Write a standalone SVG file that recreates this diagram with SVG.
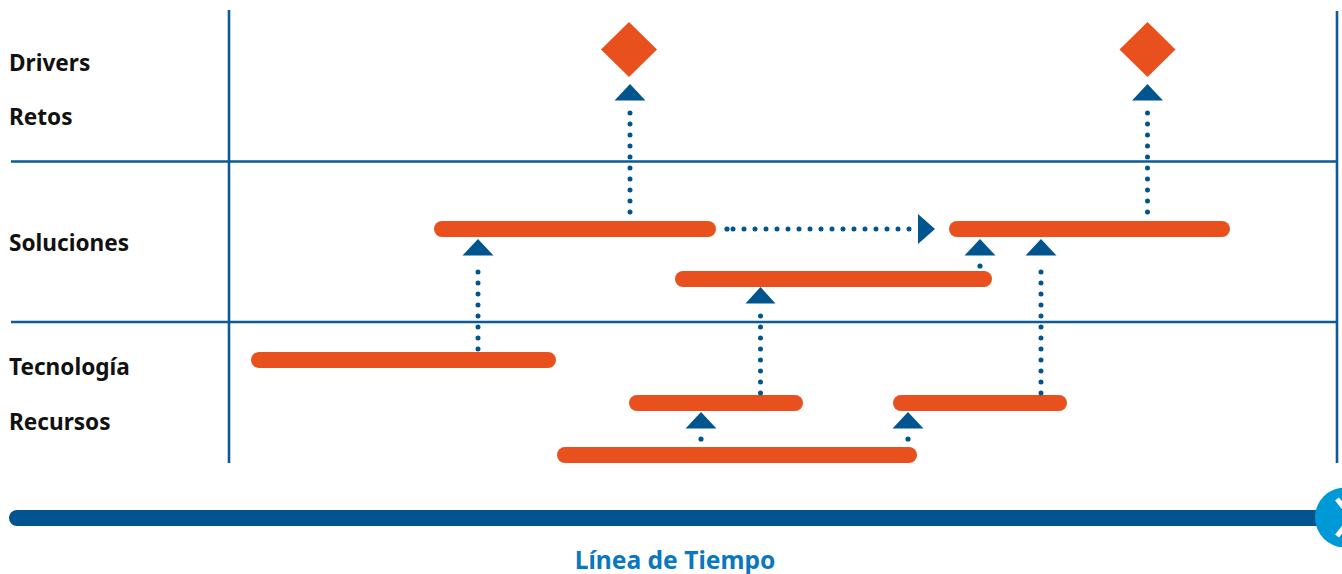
<svg xmlns="http://www.w3.org/2000/svg" width="1342" height="574" viewBox="0 0 1342 574">
<style>
.lbl{font-family:"Noto Sans","Liberation Sans",sans-serif;font-weight:bold;font-size:22.6px;fill:#111}
.title{font-family:"Noto Sans","Liberation Sans",sans-serif;font-weight:bold;font-size:24.6px;fill:#0a78be}
.grid{stroke:#0d5a94;stroke-width:2.6;fill:none}
.bar{stroke:#e8501e;stroke-width:16;stroke-linecap:round;fill:none}
.dots{stroke:#00558f;stroke-width:5;stroke-linecap:round;stroke-dasharray:0 11;fill:none}
.tri{fill:#00558f}
.dia{fill:#e8501e}
</style>
<rect width="1342" height="574" fill="#ffffff"/>
<g id="grid">
<line class="grid" x1="229" y1="10" x2="229" y2="463"/>
<line class="grid" x1="1337" y1="11" x2="1337" y2="463"/>
<line class="grid" x1="11" y1="161.5" x2="1337" y2="161.5"/>
<line class="grid" x1="11" y1="322" x2="1337" y2="322"/>
</g>
<g id="labels">
<text class="lbl" x="9" y="71">Drivers</text>
<text class="lbl" x="9" y="125">Retos</text>
<text class="lbl" x="9" y="251">Soluciones</text>
<text class="lbl" x="9" y="375">Tecnología</text>
<text class="lbl" x="9" y="430">Recursos</text>
</g>
<g id="drivers">
<polygon id="driver1" class="dia" points="629,22 657,49.5 629,77 601,49.5"/>
<polygon id="driver2" class="dia" points="1147.5,22 1175.5,49.5 1147.5,77 1119.5,49.5"/>
</g>
<g id="bars">
<line id="sol1" class="bar" x1="442" y1="229" x2="708" y2="229"/>
<line id="sol2" class="bar" x1="957" y1="229" x2="1222" y2="229"/>
<line id="sol3" class="bar" x1="683" y1="279" x2="984" y2="279"/>
<line id="tec1" class="bar" x1="259" y1="360" x2="548" y2="360"/>
<line id="rec1" class="bar" x1="637" y1="403" x2="795" y2="403"/>
<line id="rec2" class="bar" x1="901" y1="403" x2="1059" y2="403"/>
<line id="rec3" class="bar" x1="565" y1="455" x2="909" y2="455"/>
</g>
<g id="connectors">
<line class="dots" x1="630" y1="212" x2="630" y2="107"/>
<polygon class="tri" points="630,84 645.5,100.5 614.5,100.5"/>
<line class="dots" x1="1147.5" y1="212" x2="1147.5" y2="107"/>
<polygon class="tri" points="1147.5,84 1163,100.5 1132,100.5"/>
<line class="dots" x1="478" y1="349" x2="478" y2="261"/>
<polygon class="tri" points="478,239 493.5,255.5 462.5,255.5"/>
<line class="dots" x1="760.5" y1="393" x2="760.5" y2="309"/>
<polygon class="tri" points="760.5,287 775.5,303.5 745.5,303.5"/>
<line class="dots" x1="1041" y1="393" x2="1041" y2="261"/>
<polygon class="tri" points="1041,239 1056.5,255.5 1025.5,255.5"/>
<circle class="tri" cx="980" cy="266" r="2.6"/>
<polygon class="tri" points="980,239 995.5,255.5 964.5,255.5"/>
<circle class="tri" cx="701" cy="439" r="2.6"/>
<polygon class="tri" points="701,412 716.5,428.5 685.5,428.5"/>
<circle class="tri" cx="908" cy="439" r="2.6"/>
<polygon class="tri" points="908,412 923.5,428.5 892.5,428.5"/>
<circle class="tri" cx="727" cy="229" r="2.6"/>
<line class="dots" x1="733" y1="229" x2="912" y2="229"/>
<polygon class="tri" points="935,229 918,214 918,244"/>
</g>
<g id="timeline">
<line x1="17" y1="518" x2="1320" y2="518" stroke="#00558f" stroke-width="16" stroke-linecap="round"/>
<circle cx="1345" cy="517.5" r="30" fill="#0099d8"/>
<polyline points="1337,499 1352,517.5 1337,536" fill="none" stroke="#ffffff" stroke-width="5"/>
<text class="title" x="675" y="569" text-anchor="middle">Línea de Tiempo</text>
</g>
</svg>
